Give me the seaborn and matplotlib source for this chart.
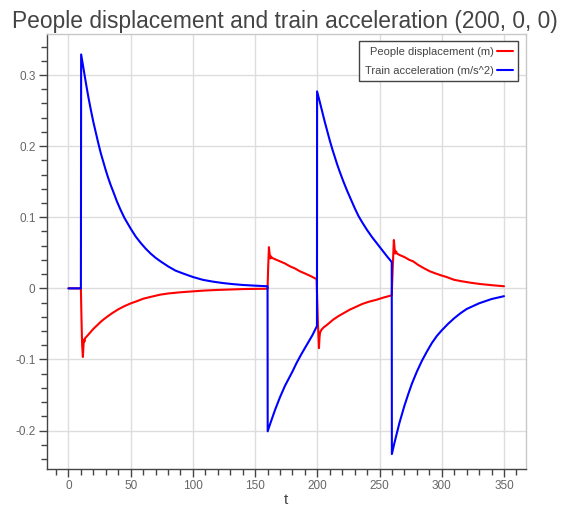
import numpy as np
import pandas as pd
import seaborn as sns
import matplotlib.pyplot as plt
from matplotlib.ticker import MultipleLocator, FuncFormatter

######################
####### data #########
######################
## people displacement (m)
t_people = [0, 10, 10.5, 11.0, 11.6, 12.1, 12.4, 12.8, 13.4, 15, 17, 20, 23, 26, 28, 31, 35, 40, 45, 49.5,
            55, 60, 66, 73.6, 80, 90, 100, 110, 120, 130, 140, 150, 160,
            160.5, 161.1, 161.7, 162.2, 162.8, 163.5, 166, 170, 174, 178, 182, 186, 190, 195, 199.4,
            200.5, 201.3, 201.8, 202.2, 202.8, 203.4, 205, 208, 212.7, 217, 222, 226, 231, 236, 241,
            247.6, 253, 259.8,
            260.6, 261.5, 262.0, 262.5, 263.3, 264, 266, 270, 274, 277, 281, 286, 290.4, 295, 300, 303.8,
            310, 316, 323, 330.5, 340, 350]
people = [0, 0, -0.045, -0.080, -0.0965, -0.080, -0.072, -0.075, -0.070, -0.067, -0.063, -0.057, -0.052,
          -0.047, -0.044, -0.040, -0.035, -0.0295, -0.025, -0.0215,
          -0.018, -0.0146, -0.012, -0.0089, -0.0072, -0.0055, -0.0042, -0.003, -0.0022, -0.0016, -0.001,
          -0.0007, -0.0005,
          0.030, 0.058, 0.048, 0.042, 0.045, 0.043, 0.041, 0.038, 0.035, 0.031, 0.028, 0.024, 0.021, 0.017, 0.013,
          -0.050, -0.084, -0.068, -0.062, -0.060, -0.058, -0.055, -0.051, -0.044, -0.039, -0.034, -0.030,
          -0.026, -0.022, -0.019, -0.016, -0.013, -0.0098,
          0.030, 0.068, 0.058, 0.049, 0.052, 0.049, 0.047, 0.044, 0.040, 0.038, 0.033, 0.028, 0.024, 0.021,
          0.018, 0.016, 0.012, 0.010, 0.008, 0.0062, 0.0045, 0.003]

## train acceleration (m/s^2)
t_train = [0, 10, 10.2, 12, 14, 16, 18, 20, 22, 24, 26, 28, 30, 32, 34, 36, 39, 42, 45, 48, 50, 54, 58,
           62, 66, 70, 74, 80, 86, 92, 100, 108, 116, 124, 132, 140, 150, 160,
           160.1, 162, 164, 166, 168, 170, 172, 174, 177, 180, 183, 187, 190, 193, 196, 199.7,
           199.8, 202, 204, 206, 208, 210, 212, 214, 216, 218, 221, 224, 227, 230, 233, 236, 240, 244, 248,
           252, 256, 259.8,
           259.9, 262, 264, 266, 268, 270, 273, 276, 280, 284, 288, 292, 296, 300, 305, 310, 315, 320, 325,
           330, 335, 340, 345, 350]
train = [0, 0, 0.329, 0.310, 0.289, 0.269, 0.251, 0.234, 0.219, 0.204, 0.190, 0.178, 0.166, 0.155, 0.145,
         0.136, 0.122, 0.110, 0.099, 0.090, 0.084, 0.073, 0.064, 0.056, 0.049, 0.043, 0.038, 0.031, 0.025,
         0.021, 0.016, 0.012, 0.0095, 0.0075, 0.006, 0.0048, 0.0038, 0.003,
         -0.201, -0.191, -0.181, -0.171, -0.162, -0.153, -0.145, -0.137, -0.127, -0.117, -0.106, -0.093,
         -0.084, -0.075, -0.066, -0.053,
         0.277, 0.262, 0.248, 0.234, 0.221, 0.208, 0.196, 0.185, 0.174, 0.164, 0.150, 0.137, 0.125, 0.113,
         0.102, 0.093, 0.082, 0.072, 0.063, 0.054, 0.045, 0.037,
         -0.233, -0.217, -0.203, -0.189, -0.177, -0.165, -0.149, -0.134, -0.117, -0.102, -0.089, -0.077,
         -0.067, -0.059, -0.050, -0.042, -0.035, -0.029, -0.025, -0.021, -0.018, -0.015, -0.013, -0.011]

title = 'People displacement and train acceleration (200, 0, 0)'

#####################
######## plot #######
#####################
sns.set_style('white')
plt.rcParams['font.family'] = ['Liberation Sans', 'DejaVu Sans']
plt.rcParams['axes.unicode_minus'] = False

fig = plt.figure(figsize=(5.61, 5.12), dpi=100)
ax = fig.add_axes([0.0832, 0.084, 0.854, 0.850])

sns.lineplot(x=t_people, y=people, sort=False, estimator=None, color='#ff0000', lw=1.5,
             label='People displacement (m)', ax=ax)
sns.lineplot(x=t_train, y=train, sort=False, estimator=None, color='#0000ff', lw=1.5,
             label='Train acceleration (m/s^2)', ax=ax)

ax.set_xlim(-17.5, 367.5)
ax.set_ylim(-0.254, 0.358)
ax.xaxis.set_major_locator(MultipleLocator(50))
ax.xaxis.set_minor_locator(MultipleLocator(10))
ax.yaxis.set_major_locator(MultipleLocator(0.1))
ax.yaxis.set_minor_locator(MultipleLocator(0.02))
ax.yaxis.set_major_formatter(FuncFormatter(lambda v, p: '%g' % round(v, 3)))
ax.grid(True, which='major', color='#dddddd', lw=1)
ax.set_axisbelow(True)

ax.tick_params(which='major', direction='out', length=6, width=1, color='#444444', pad=2,
               labelsize=8.5, labelcolor='#666666', bottom=True, left=True)
ax.tick_params(which='minor', direction='out', length=4, width=1, color='#444444',
               bottom=True, left=True)
for side in ['left', 'bottom']:
    ax.spines[side].set_color('#444444')
    ax.spines[side].set_linewidth(1)
for side in ['top', 'right']:
    ax.spines[side].set_color('#c8c8c8')
    ax.spines[side].set_linewidth(1)

ax.set_xlabel('t', fontsize=11, color='#444444', labelpad=1)
ax.set_ylabel('')
fig.text(0.508, 0.958, title, ha='center', va='center', fontsize=16.4, color='#444444')

leg = ax.legend(loc='upper right', bbox_to_anchor=(0.984, 0.983), markerfirst=False, fontsize=8,
                frameon=True, fancybox=False, framealpha=1, handlelength=1.4, handletextpad=0.3,
                borderpad=0.5, labelspacing=0.8, borderaxespad=0)
leg.get_frame().set_edgecolor('#444444')
leg.get_frame().set_linewidth(1)
for txt in leg.get_texts():
    txt.set_color('#444444')

fig.savefig('out.png', dpi=100)
